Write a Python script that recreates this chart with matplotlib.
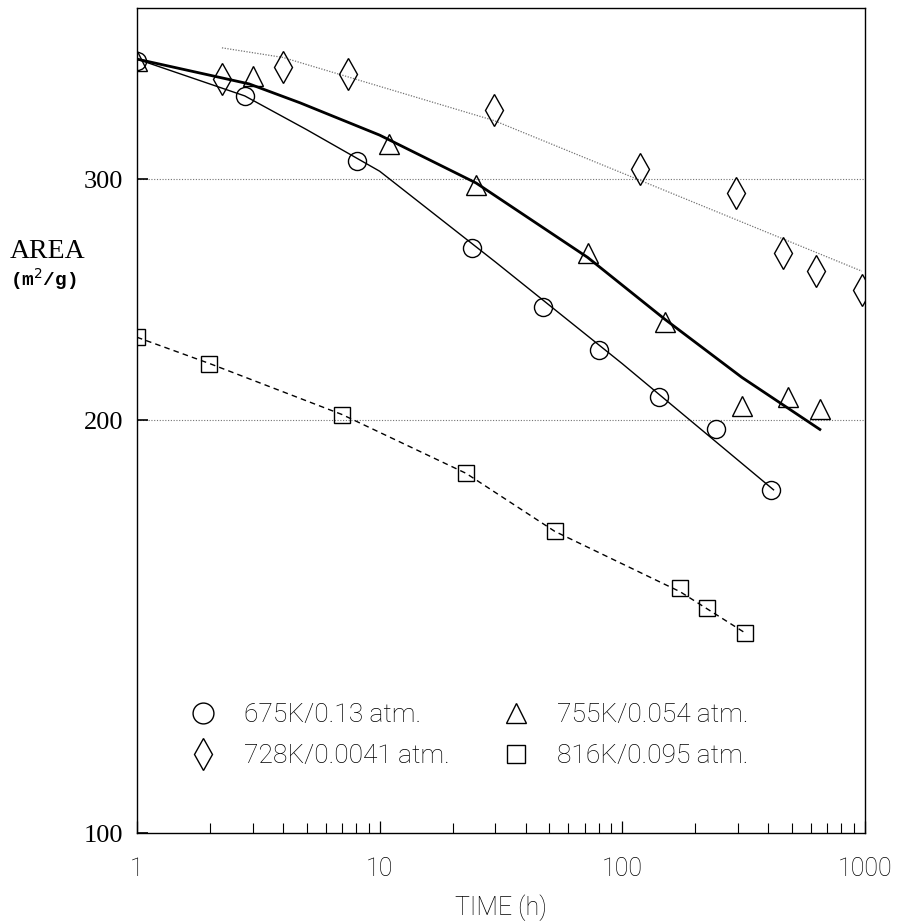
import matplotlib
matplotlib.use("Agg")
import matplotlib.pyplot as plt
from matplotlib.lines import Line2D
from matplotlib.ticker import FixedLocator, NullFormatter, LogLocator

# measured points (time in h, area in m2/g)
t_675 = [1, 2.78, 8.1, 24, 47, 80, 141, 243, 410]
s_675 = [366, 345, 309, 267, 242, 225, 208, 197, 178]

t_755 = [1, 3.0, 10.9, 25, 72, 150, 311, 481, 652]
s_755 = [366, 357, 318, 297, 265, 236, 205, 208, 204]

t_728 = [2.24, 4.0, 7.4, 29.6, 118, 294, 459, 628, 971]
s_728 = [355, 362, 358, 337, 305, 293, 265, 257, 249]

t_816 = [1, 1.98, 7.0, 22.7, 52.7, 173, 223, 320]
s_816 = [230, 220, 202, 183, 166, 151, 146, 140]

# fitted curves as drawn
fit_t_675 = [1, 2.78, 5, 10, 30, 100, 420]
fit_s_675 = [367, 345, 326, 304, 261, 220, 178]
fit_t_755 = [1, 2.9, 4.7, 10, 25, 72, 150, 311, 652]
fit_s_755 = [367, 352, 341, 323, 298, 263, 237, 215, 197]
fit_t_728 = [2.24, 4.0, 29.6, 115, 971]
fit_s_728 = [374, 368, 331, 300, 257]
fit_t_816 = [1, 2, 7, 22.7, 52.7, 173, 320]
fit_s_816 = [230, 220, 202, 183, 166, 150, 140]

labels = ["675K/0.13 atm.", "728K/0.0041 atm.", "755K/0.054 atm.", "816K/0.095 atm."]
x_ticks = [1, 10, 100, 1000]
y_ticks = [100, 200, 300]

sans = ["Roboto", "DejaVu Sans"]
serif = ["Liberation Serif", "DejaVu Serif"]

fig = plt.figure(figsize=(9.01, 9.21), dpi=100)
ax = fig.add_axes([0.152, 0.0955, 0.808, 0.896])
ax.set_xscale("log")
ax.set_yscale("log")
ax.set_xlim(1, 1000)
ax.set_ylim(100, 400)

for yv in [200, 300]:
    ax.axhline(yv, color="0.45", lw=0.8, ls=(0, (1, 1.5)), zorder=1)

ax.plot(fit_t_675, fit_s_675, color="k", lw=1.0, zorder=2)
ax.plot(fit_t_755, fit_s_755, color="k", lw=2.0, zorder=2)
ax.plot(fit_t_728, fit_s_728, color="0.45", lw=0.9, ls=(0, (1, 1.2)), zorder=2)
ax.plot(fit_t_816, fit_s_816, color="k", lw=1.0, ls=(0, (4, 3)), zorder=2)

mk = dict(ls="none", mfc="none", mec="k", mew=1.0, zorder=3)
ax.plot(t_675, s_675, marker="o", ms=13, **mk)
ax.plot(t_755, s_755, marker="^", ms=14, **mk)
ax.plot(t_728, s_728, marker="d", ms=16, **mk)
ax.plot(t_816, s_816, marker="s", ms=12, **mk)

handles = [Line2D([], [], marker="o", ms=15, **mk),
           Line2D([], [], marker="d", ms=16, **mk),
           Line2D([], [], marker="^", ms=15, **mk),
           Line2D([], [], marker="s", ms=13, **mk)]
leg = ax.legend(handles, labels, ncol=2, frameon=False, loc="lower left",
                bbox_to_anchor=(0.037, 0.05), handlelength=1.2,
                handletextpad=0.95, columnspacing=1.9, labelspacing=0.65,
                prop=dict(family=sans, size=19, weight="light"))

ax.xaxis.set_major_locator(FixedLocator(x_ticks))
ax.set_xticklabels([str(v) for v in x_ticks], family=sans, size=18, weight="light")
ax.xaxis.set_minor_locator(LogLocator(base=10, subs=range(2, 10)))
ax.xaxis.set_minor_formatter(NullFormatter())
ax.yaxis.set_major_locator(FixedLocator(y_ticks))
ax.yaxis.set_minor_locator(FixedLocator([]))
ax.set_yticklabels([str(v) for v in y_ticks], family=serif, size=19)
ax.tick_params(axis="x", which="major", direction="in", length=9, width=0.9, pad=17)
ax.tick_params(axis="x", which="minor", direction="in", length=7, width=0.8)
ax.tick_params(axis="y", which="major", direction="in", length=8, width=1.2, pad=10)
for sp in ax.spines.values():
    sp.set_linewidth(1.0)

ax.set_xlabel("TIME (h)", family=sans, size=18, weight="light", labelpad=10)
fig.text(0.053, 0.727, "AREA", family=serif, size=20, ha="center", va="center")
fig.text(0.048, 0.697, "(m$^2$/g)", family=["Liberation Mono", "DejaVu Sans Mono"],
         size=14, weight="bold", ha="center", va="center")

fig.savefig("out.png", dpi=100)
